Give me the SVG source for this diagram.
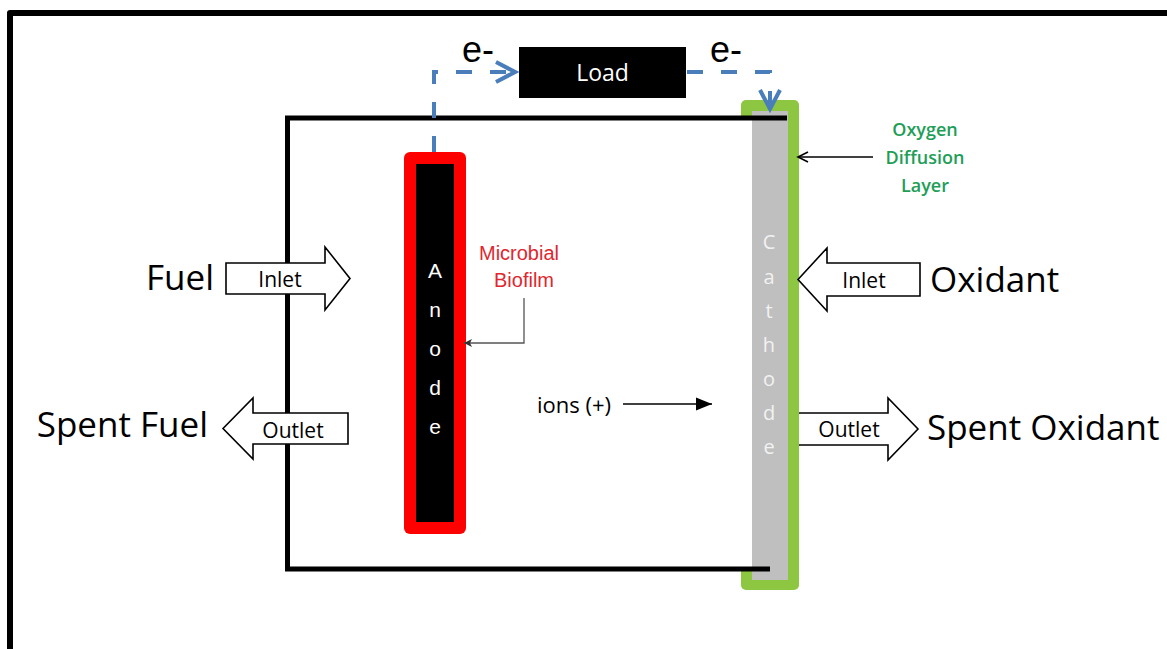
<svg xmlns="http://www.w3.org/2000/svg" width="1167" height="649" viewBox="0 0 1167 649">
  <style>
    .big { font-family: "Open Sans", "Noto Sans", sans-serif; font-size: 35px; fill: #000; }
    .mid { font-family: "Open Sans", "Noto Sans", sans-serif; font-size: 21px; fill: #000; }
    .flow { fill: #fff; stroke: #000; stroke-width: 1.6; stroke-linejoin: miter; }
    .wall { fill: none; stroke: #000; stroke-width: 5; }
    .elec { stroke: #4a7ebb; stroke-width: 4; fill: none; stroke-dasharray: 16 18; }
    .eminus { font-family: "Liberation Sans", Arial, sans-serif; font-size: 36px; fill: #000; }
    .anode-letter { font-family: "Liberation Sans", Arial, sans-serif; font-size: 21px; fill: #fff; text-anchor: middle; }
    .cathode-letter { font-family: "Open Sans", "Noto Sans", sans-serif; font-size: 20px; fill: #f2f2f2; text-anchor: middle; }
    .green-label { font-family: "Open Sans", "Noto Sans", sans-serif; font-size: 18px; font-weight: 600; fill: #1e9e57; text-anchor: middle; }
    .red-label { font-family: "Liberation Sans", Arial, sans-serif; font-size: 20px; fill: #e0262e; text-anchor: middle; }
  </style>
  <defs>
    <marker id="blueHead" markerUnits="userSpaceOnUse" viewBox="-26 -14 30 28" markerWidth="30" markerHeight="28" refX="0" refY="0" orient="auto">
      <path d="M-19,-10 L0,0 L-19,10" fill="none" stroke="#4a7ebb" stroke-width="4"/>
    </marker>
    <marker id="openBlack" markerUnits="userSpaceOnUse" viewBox="-14 -8 16 16" markerWidth="16" markerHeight="16" refX="0" refY="0" orient="auto">
      <path d="M-10,-5 L0,0 L-10,5" fill="none" stroke="#000" stroke-width="1.6"/>
    </marker>
    <marker id="solidBlack" markerUnits="userSpaceOnUse" viewBox="-18 -9 20 18" markerWidth="20" markerHeight="18" refX="0" refY="0" orient="auto">
      <path d="M-16,-6.5 L0,0 L-16,6.5 Z" fill="#000"/>
    </marker>
    <marker id="smallGray" markerUnits="userSpaceOnUse" viewBox="-10 -6 12 12" markerWidth="12" markerHeight="12" refX="0" refY="0" orient="auto">
      <path d="M-8,-4 L0,0 L-8,4 L-6,0 Z" fill="#333"/>
    </marker>
  </defs>

  <rect width="1167" height="649" fill="#fff"/>

  <!-- outer frame -->
  <g id="frame">
    <path d="M10,652 V13 H1170" fill="none" stroke="#000" stroke-width="6" stroke-linejoin="round"/>
  </g>

  <!-- cathode with oxygen diffusion layer -->
  <g id="cathode">
    <rect x="741" y="100" width="58" height="490" rx="5" fill="#8dc641"/>
    <rect x="752" y="111" width="36" height="469" fill="#bfbfbf"/>
    <rect x="736" y="120" width="16" height="447" fill="#fff"/>
  </g>

  <!-- chamber walls -->
  <g id="chamber">
    <path class="wall" d="M787,118 H287.5 V569 H770"/>
  </g>

  <g id="cathode-label">
    <text class="cathode-letter" x="769" y="249">C</text>
    <text class="cathode-letter" x="769" y="284">a</text>
    <text class="cathode-letter" x="769" y="318">t</text>
    <text class="cathode-letter" x="769" y="352">h</text>
    <text class="cathode-letter" x="769" y="386">o</text>
    <text class="cathode-letter" x="769" y="420">d</text>
    <text class="cathode-letter" x="769" y="454">e</text>
  </g>

  <!-- anode with microbial biofilm -->
  <g id="anode">
    <rect x="404" y="152" width="62" height="382" rx="6" fill="#ff0000"/>
    <rect x="416" y="164" width="38" height="358" fill="#000"/>
    <text class="anode-letter" x="435" y="278">A</text>
    <text class="anode-letter" x="435" y="317">n</text>
    <text class="anode-letter" x="435" y="356">o</text>
    <text class="anode-letter" x="435" y="395">d</text>
    <text class="anode-letter" x="435" y="434">e</text>
  </g>

  <!-- load -->
  <g id="load">
    <rect x="519" y="47" width="167" height="51" fill="#000"/>
    <text x="602.5" y="81" text-anchor="middle" font-family="'Open Sans', 'Noto Sans', sans-serif" font-size="23" fill="#fff">Load</text>
  </g>

  <!-- fuel inlet -->
  <g id="fuel-inlet">
    <text class="big" x="214" y="290" text-anchor="end">Fuel</text>
    <path class="flow" d="M226,263 H325 V247 L350,278.5 L325,310 V294 H226 Z"/>
    <text class="mid" x="280" y="287" text-anchor="middle">Inlet</text>
  </g>

  <!-- fuel outlet -->
  <g id="fuel-outlet">
    <text class="big" x="208" y="437" text-anchor="end">Spent Fuel</text>
    <path class="flow" d="M223,428.5 L253,398 V413 H348 V444 H253 V459 Z"/>
    <text class="mid" x="293" y="438" text-anchor="middle">Outlet</text>
  </g>

  <!-- oxidant inlet -->
  <g id="oxidant-inlet">
    <path class="flow" d="M798,279.5 L827,248 V263 H920 V296 H827 V311 Z"/>
    <text class="mid" x="864" y="288" text-anchor="middle">Inlet</text>
    <text class="big" x="930" y="292">Oxidant</text>
  </g>

  <!-- oxidant outlet -->
  <g id="oxidant-outlet">
    <path d="M799,413 H888 V398 L918,429 L888,460 V445 H799 Z" fill="#fff" stroke="none"/>
    <path d="M799,413 H888 V398 L918,429 L888,460 V445 H799" fill="none" stroke="#000" stroke-width="1.6"/>
    <text class="mid" x="849" y="437" text-anchor="middle">Outlet</text>
    <text class="big" x="927" y="440">Spent Oxidant</text>
  </g>

  <!-- annotations -->
  <g id="biofilm-label">
    <text class="red-label" x="519" y="260">Microbial</text>
    <text class="red-label" x="524" y="287">Biofilm</text>
  </g>
  <g id="oxygen-label">
    <text class="green-label" x="925" y="136">Oxygen</text>
    <text class="green-label" x="925" y="164">Diffusion</text>
    <text class="green-label" x="925" y="192">Layer</text>
  </g>
  <g id="ions-label">
    <text x="537" y="413" font-family="'Open Sans', 'Noto Sans', sans-serif" font-size="22" fill="#000">ions (+)</text>
  </g>
  <g id="electron-labels">
    <text class="eminus" x="462" y="62">e-</text>
    <text class="eminus" x="710" y="62">e-</text>
  </g>

  <!-- connectors -->
  <g id="connectors">
    <path class="elec" d="M434,152 V72 H515" marker-end="url(#blueHead)"/>
    <path class="elec" d="M687,72 H770 V109" marker-end="url(#blueHead)"/>
    <path d="M873,157 H798" fill="none" stroke="#000" stroke-width="1.5" marker-end="url(#openBlack)"/>
    <path d="M623,404 H712" fill="none" stroke="#000" stroke-width="1.6" marker-end="url(#solidBlack)"/>
    <path d="M524,298 V343 H464" fill="none" stroke="#555" stroke-width="1.3" marker-end="url(#smallGray)"/>
  </g>
</svg>
